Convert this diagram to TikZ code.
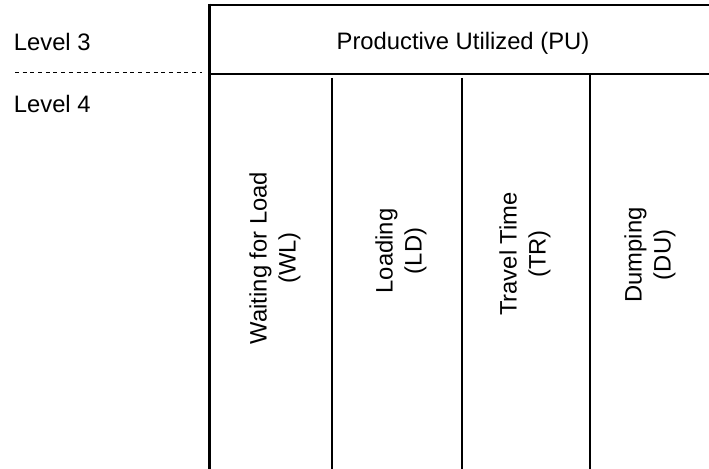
\documentclass[tikz,border=0pt]{standalone}
\usepackage{fontspec}
\setmainfont{Liberation Sans}
\begin{document}
\begin{tikzpicture}[x=0.5pt,y=-0.5pt,
  lbl/.style={inner sep=0pt,font=\fontsize{11.9}{14.5}\selectfont},
  vlbl/.style={lbl,rotate=90,align=center},
  frame/.style={line width=1.4pt},
  midline/.style={line width=0.85pt},
  divline/.style={line width=0.65pt},
  lvldash/.style={line width=0.5pt,dash pattern=on 2pt off 1.85pt}]
\useasboundingbox (0,0) rectangle (709,469);
% frame coordinates
\coordinate (lt) at (209.5,3.6);
\coordinate (lb) at (209.5,469);
\coordinate (tl) at (208.5,5);
\coordinate (tr) at (709,5);
\coordinate (ml) at (209.5,74);
\coordinate (mr) at (709,74);
\coordinate (d1t) at (332,78);
\coordinate (d1b) at (332,469);
\coordinate (d2t) at (462,78);
\coordinate (d2b) at (462,469);
\coordinate (d3t) at (590,74);
\coordinate (d3b) at (590,469);
\coordinate (dl) at (15,73);
\coordinate (dr) at (202,73);
\draw[frame] (lt) -- (lb);
\draw[frame] (tl) -- (tr);
\draw[midline] (ml) -- (mr);
\draw[divline] (d1t) -- (d1b);
\draw[divline] (d2t) -- (d2b);
\draw[divline] (d3t) -- (d3b);
\draw[lvldash] (dl) -- (dr);
% labels
\node[lbl,anchor=base west] (lv3) at (13.5,50.5) {Level 3};
\node[lbl,anchor=base west] (lv4) at (13.5,112.5) {Level 4};
\node[lbl,anchor=base] (pu) at (463,49.5) {Productive Utilized (PU)};
\node[vlbl] (wl) at (275,258) {Waiting for Load\\(WL)};
\node[vlbl] (ld) at (401,251) {Loading\\(LD)};
\node[vlbl] (tt) at (525,254) {Travel Time\\(TR)};
\node[vlbl] (du) at (650,255) {Dumping\\(DU)};
\end{tikzpicture}
\end{document}
